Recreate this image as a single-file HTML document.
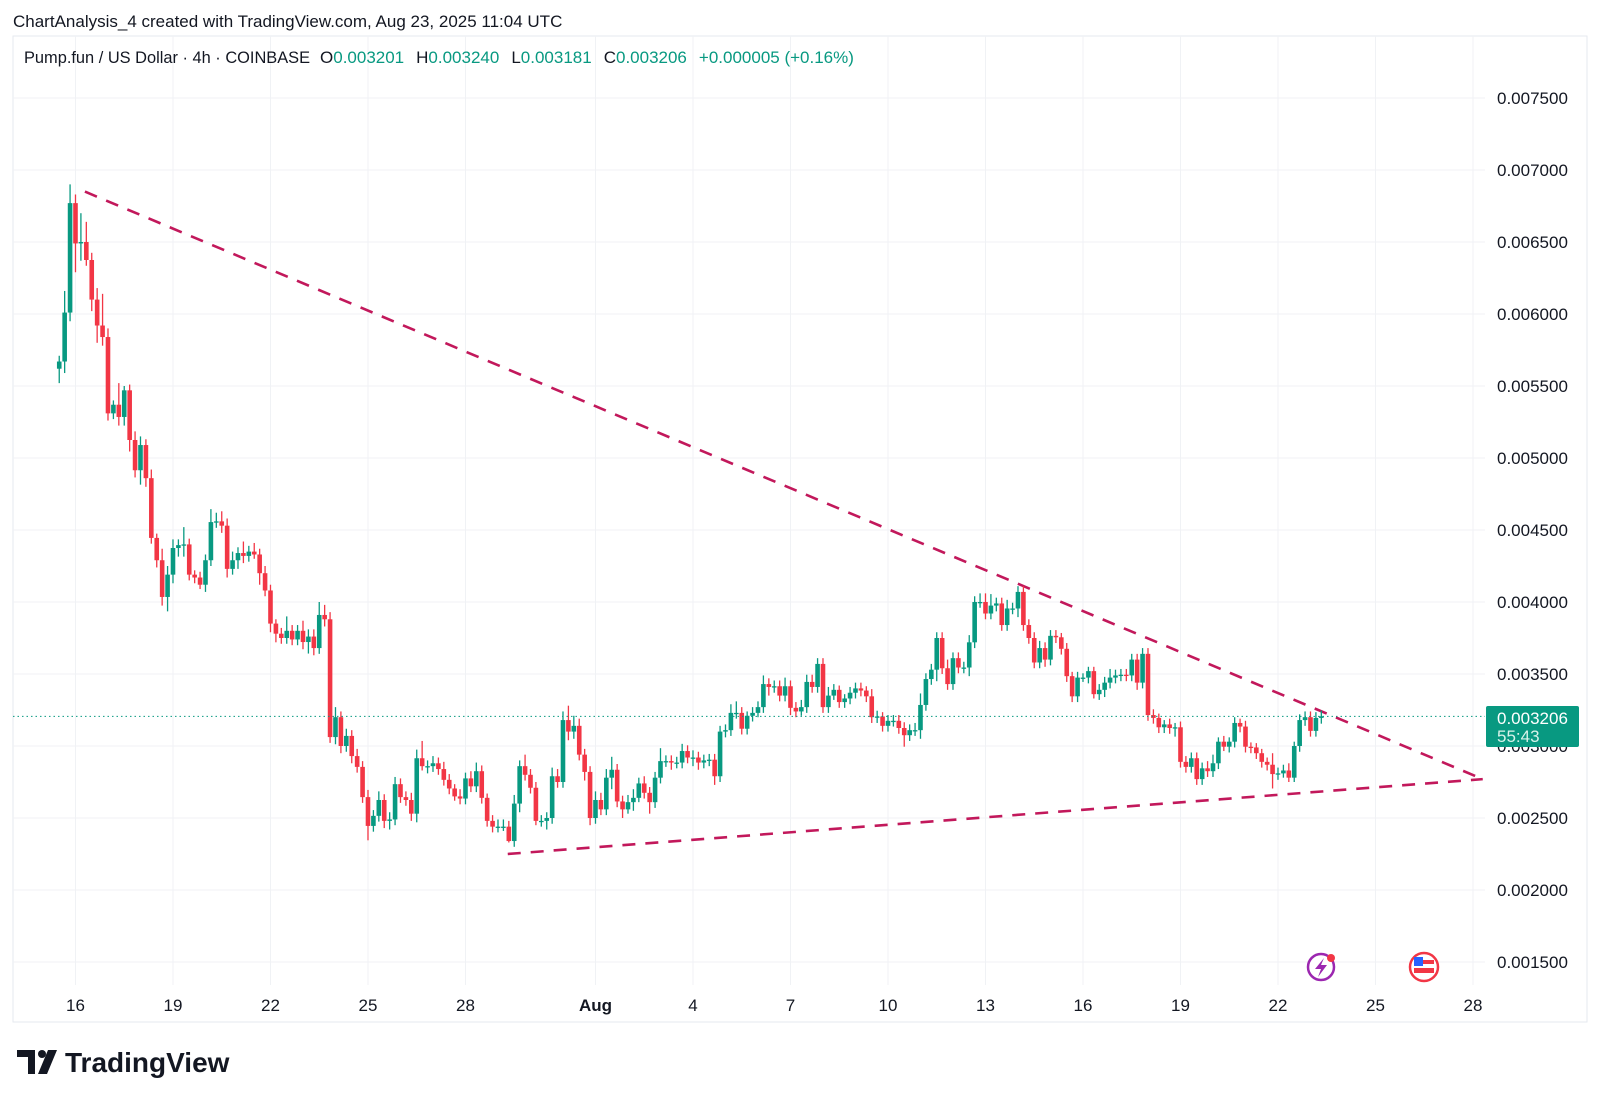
<!DOCTYPE html>
<html><head><meta charset="utf-8"><style>
html,body{margin:0;padding:0;background:#fff;}
body{width:1600px;height:1102px;position:relative;overflow:hidden;font-family:"Liberation Sans",sans-serif;}
svg text{font-family:"Liberation Sans",sans-serif;}
</style></head><body>
<svg id="chart" width="1600" height="1102" xmlns="http://www.w3.org/2000/svg">
<text x="13" y="27" font-size="17" fill="#131722">ChartAnalysis_4 created with TradingView.com, Aug 23, 2025 11:04 UTC</text>
<rect x="13" y="36" width="1574" height="986" fill="none" stroke="#e6e9ef" stroke-width="1"/>
<g id="grid"></g>
<g id="trend"></g>
<g id="candles"></g>
<g id="axes"></g>
<g>
<text x="24" y="63" font-size="16.4" fill="#131722">Pump.fun / US Dollar · 4h · COINBASE</text>
<text x="320" y="63" font-size="17"><tspan fill="#131722">O</tspan><tspan fill="#089981">0.003201</tspan><tspan fill="#131722" dx="12">H</tspan><tspan fill="#089981">0.003240</tspan><tspan fill="#131722" dx="12">L</tspan><tspan fill="#089981">0.003181</tspan><tspan fill="#131722" dx="12">C</tspan><tspan fill="#089981">0.003206</tspan><tspan fill="#089981" dx="12">+0.000005 (+0.16%)</tspan></text>
</g>
<g>
<circle cx="1321" cy="967" r="13" fill="#fff" stroke="#9c27b0" stroke-width="2.5"/>
<path d="M1324 958 L1315 969 L1321 969 L1318 977 L1327 965 L1321 965 Z" fill="#9c27b0"/>
<circle cx="1331" cy="958" r="4" fill="#f23645"/>
</g>
<g>
<circle cx="1424" cy="967" r="14" fill="#fff" stroke="#f23645" stroke-width="2.5"/>
<rect x="1414" y="960" width="20" height="4" fill="#f23645"/>
<rect x="1414" y="968" width="20" height="5" fill="#f23645"/>
<rect x="1414" y="957" width="9" height="9" fill="#2962ff"/>
</g>
<g>
<path d="M17 1050 H35 V1074 H28 V1057 H17 Z" fill="#131722"/>
<circle cx="42" cy="1054" r="4" fill="#131722"/>
<path d="M48 1050 H57 L47 1074 H38 Z" fill="#131722"/>
<text x="65" y="1072" font-size="28" font-weight="bold" fill="#131722">TradingView</text>
</g>
</svg>
<script>
// close prices in 1e-6 USD, 4h candles
const closes=[5670,6010,6770,6490,6500,6375,6100,5920,5840,5310,5370,5285,5470,5125,4915,5090,4860,4445,4290,4035,4190,4375,4395,4400,4190,4170,4120,4290,4555,4560,4530,4230,4290,4340,4320,4350,4330,4200,4080,3850,3780,3750,3800,3740,3800,
3722,3760,3680,3910,3880,3062,3200,3000,3070,2930,2855,2645,2445,2515,2625,2480,2490,2735,2645,2625,2530,2915,2860,2860,2880,2840,2765,2705,2650,2635,2775,2720,2825,2640,2480,2440,2440,2440,2340,2600,2860,2800,2710,2480,2480,2500,2790,2750,3180,3100,3140,2940,2820,2500,2625,2560,2780,2835,2615,2560,2610,2640,2740,
2675,2610,2780,2895,2895,2885,2885,2965,2920,2920,2885,2900,2905,2790,3100,3110,3230,3230,3120,3210,3230,3270,3430,3410,3415,3350,3415,3265,3240,3270,3445,3410,3570,3270,3350,3390,3305,3330,3370,3400,3385,3345,3200,3205,3140,3175,3175,3125,3075,3110,3110,3285,3465,3530,3750,3540,3430,3610,3545,3545,3720,4000,4000,3920,3975,3990,3840,3955,3955,4070,3840,3750,
3580,3680,3600,3765,3755,3675,3485,3345,3475,3475,3520,3360,3390,3440,3475,3490,3495,3490,3600,3440,3640,3215,3195,3130,3150,3125,3130,2890,2855,2915,2770,2845,2825,2880,3030,2995,3030,3160,3135,2995,2990,2950,2890,2870,2805,2810,2830,2780,3000,3180,3200,3105,3195,3206];
const firstOpen=5620;
// wick extensions above/below body (1e-6 USD)
const wickUp=[40,150,130,60,200,140,50,80,220,60,30,150,30,40,60,60,40,60,30,80,60,60,40,120,40,30,40,40,90,60,70,50,60,40,80,40,60,40,50,40,30,40,100,40,40,
70,50,50,90,70,50,70,40,50,40,50,40,50,40,60,40,50,50,40,40,50,60,120,40,50,40,50,40,30,50,40,50,60,40,30,40,50,50,40,60,40,80,40,40,40,40,60,50,60,100,70,50,40,40,60,50,60,90,40,40,50,60,40,
50,40,40,90,40,40,40,50,40,50,40,40,40,40,40,40,60,80,40,30,40,40,60,40,40,40,60,40,40,50,50,50,40,40,60,40,30,30,40,40,40,30,50,40,30,40,40,40,40,40,50,80,40,40,40,40,60,40,40,40,50,40,60,60,80,40,40,
60,40,40,40,40,40,50,40,40,40,30,40,30,40,30,30,30,40,40,60,40,40,40,40,40,40,40,40,30,30,40,30,40,40,40,40,40,50,60,30,40,30,40,30,40,30,30,30,30,80,40,40,50,30];
const wickDn=[100,80,60,200,120,40,80,120,60,50,40,60,60,80,50,100,60,40,50,60,100,60,60,80,40,40,30,50,40,40,50,60,40,60,50,40,30,80,40,60,60,40,40,40,40,
50,80,50,40,50,40,50,50,40,50,40,40,100,40,40,50,60,40,40,40,50,60,30,50,40,40,40,40,30,40,40,40,40,40,40,40,40,30,10,40,60,40,40,30,40,60,40,40,40,60,50,40,60,50,40,40,40,80,40,60,30,60,30,
40,80,40,40,40,50,40,40,40,60,50,40,40,60,40,40,40,40,40,40,40,30,40,60,40,40,40,50,40,30,40,40,40,40,40,30,40,40,40,40,40,40,40,40,40,40,40,40,80,40,40,60,40,40,80,40,40,40,40,40,60,40,40,40,40,40,40,40,
40,60,40,40,40,40,50,40,40,40,40,40,40,30,40,30,40,50,40,40,40,40,40,50,40,40,40,40,40,40,60,40,40,40,40,40,40,40,40,30,40,40,40,40,40,40,40,40,100,40,30,30,30,40];
const priceTicks=[1500,2000,2500,3000,3500,4000,4500,5000,5500,6000,6500,7000,7500];
const dateTicks=[0,3,6,9,12,16,19,22,25,28,31,34,37,40,43];
const dateLabels=["16","19","22","25","28","Aug","4","7","10","13","16","19","22","25","28"];
const lastPrice=3206;
// trendline anchors: [day, price]
const upperLine=[[0.29,6850],[43.3,2770]];
const lowerLine=[[13.3,2250],[43.3,2770]];

const NS="http://www.w3.org/2000/svg";
function X(t){return 75.5+t*32.5;}
function Y(p){return 962-(p-1500)/500*72;}
function mk(tag,attrs,parent){const e=document.createElementNS(NS,tag);for(const k in attrs)e.setAttribute(k,attrs[k]);parent.appendChild(e);return e;}
const grid=document.getElementById('grid'),axes=document.getElementById('axes'),cg=document.getElementById('candles'),tg=document.getElementById('trend');
priceTicks.forEach(p=>{
  const l=mk('line',{x1:13,x2:1485,y1:Y(p),y2:Y(p),stroke:'#f0f2f5','stroke-width':1},grid);
  
  
  const tx=mk('text',{x:1497,y:Y(p)+6,'font-size':17,fill:'#131722'},axes);
  tx.textContent='0.00'+String(p).padStart(4,'0');
  
  
});
dateTicks.forEach((d,i)=>{
  const l=mk('line',{x1:X(d),x2:X(d),y1:36,y2:985,stroke:'#f0f2f5','stroke-width':1},grid);
  
  
  const tx=mk('text',{x:X(d),y:1011,'font-size':17,fill:'#131722','text-anchor':'middle','font-weight':dateLabels[i]==='Aug'?'bold':'normal'},axes);
  tx.textContent=dateLabels[i];
  
  
});
const n=closes.length, cw=4.6;
for(let i=0;i<n;i++){
  const t=38.333-(n-1-i)/6;
  const o=i===0?firstOpen:closes[i-1], c=closes[i];
  const up=c>=o, col=up?'#089981':'#f23645';
  const x=X(t);
  const wu=(wickUp[i]!==undefined)?wickUp[i]:40, wd=(wickDn[i]!==undefined)?wickDn[i]:40;
  const hi=Math.max(o,c)+wu, lo=Math.min(o,c)-wd;
  const w=mk('line',{x1:x,x2:x,y1:Y(hi),y2:Y(lo),stroke:col,'stroke-width':1.3},cg);
  
  
  const top=Y(Math.max(o,c)), h=Math.max(1.3,Y(Math.min(o,c))-top);
  const b=mk('rect',{x:x-cw/2,y:top,width:cw,height:h,fill:col},cg);
  
  
}
function tl(a,name){
  const l=mk('line',{x1:X(a[0][0]),y1:Y(a[0][1]),x2:X(a[1][0]),y2:Y(a[1][1]),stroke:'#c2185b','stroke-width':2.6,'stroke-dasharray':'13 10'},tg);
  
  
}
tl(upperLine,'upper-trendline');
tl(lowerLine,'lower-trendline');
const pl=mk('line',{x1:13,x2:1485,y1:Y(lastPrice),y2:Y(lastPrice),stroke:'#089981','stroke-width':1,'stroke-dasharray':'1.5 3'},axes);


const lb=mk('rect',{x:1486,y:706,width:93,height:41,rx:2,fill:'#089981'},axes);


const t1=mk('text',{x:1497,y:724,'font-size':17,fill:'#fff'},axes);
t1.textContent='0.00'+String(lastPrice).padStart(4,'0');


const t2=mk('text',{x:1497,y:742,'font-size':17,fill:'#d8f3ea'},axes);
t2.textContent='55:43';


</script>
</body></html>
